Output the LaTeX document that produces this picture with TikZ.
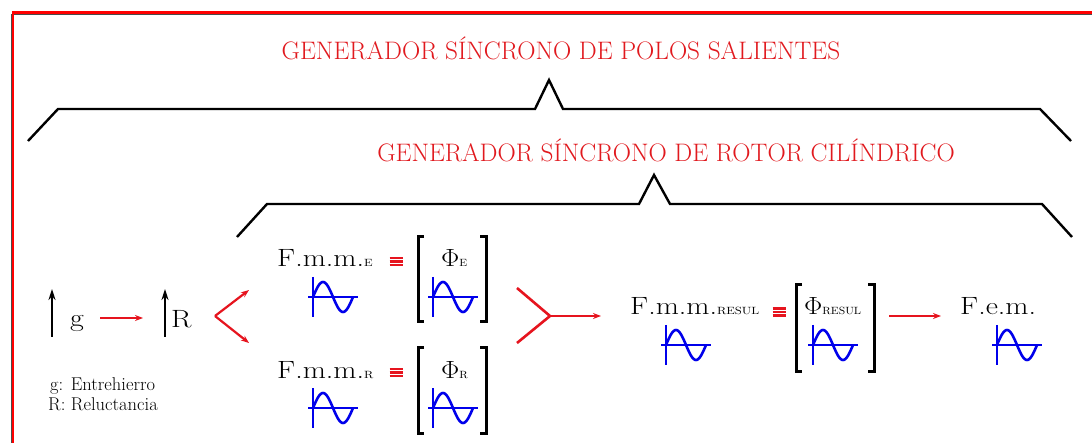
\documentclass[tikz,border=0pt]{standalone}
\usetikzlibrary{arrows.meta}
\definecolor{tred}{RGB}{225,25,30}
\definecolor{ared}{RGB}{230,20,30}
\definecolor{wblue}{RGB}{0,0,235}
\newcommand\widetxt[1]{\scalebox{1.2}[1]{#1}}
\newcommand\smc[1]{{\fontsize{10.5}{12}\selectfont #1}}
\begin{document}
\begin{tikzpicture}[x=1pt,y=-1pt,
  title/.style={font=\fontsize{25.3}{30}\selectfont, text=tred, inner sep=0, anchor=base},
  big/.style={font=\fontsize{25}{30}\selectfont, inner sep=0, anchor=base west},
  phitxt/.style={font=\fontsize{25}{30}\selectfont, inner sep=0, anchor=base west},
  legend/.style={font=\fontsize{18.5}{22}\selectfont, inner sep=0, anchor=base west},
  brace/.style={line width=2.4pt, line join=miter},
  redarrow/.style={ared, line width=2.2pt, -{Stealth[length=8pt,width=6pt]}},
  redline/.style={ared, line width=2.6pt},
  uparrow/.style={black, line width=2pt, -{Stealth[length=11pt,width=7pt]}},
  bracket/.style={line width=3pt},
  sine/.pic={\draw[wblue, line width=2.6pt] (0,-20) -- (0,20) (-5,0) -- (45,0);
     \draw[wblue, line width=2.6pt, domain=0:40, samples=41, smooth] plot (\x, {-15*sin(9*\x)});},
  eqv/.pic={\foreach \d in {-3.4,0,3.4} \draw[ared, line width=2.4pt] (-6.5,\d) -- (6.5,\d);}
]
\useasboundingbox (0,0) rectangle (1092,443);
\fill[white] (0,0) rectangle (1092,443);
% frame
\draw[black!70, line width=1.2pt] (11.2,443) -- (11.2,14.8) -- (1092,14.8);
\draw[red, line width=2.8pt] (13,443) -- (13,12.5) -- (1092,12.5);
% titles
\node[title] (t1) at (561,60) {GENERADOR SÍNCRONO DE POLOS SALIENTES};
\node[title] (t2) at (666,162) {GENERADOR SÍNCRONO DE ROTOR CILÍNDRICO};
% braces
\draw[brace] (28,141) -- (58,109) -- (535,109) -- (549,80) -- (563,109) -- (1040,109) -- (1071,141);
\draw[brace] (237,237) -- (267,204) -- (639,204) -- (654,175) -- (670,204) -- (1042,204) -- (1072,237);
% left part
\coordinate (u1s) at (52,337); \coordinate (u1e) at (52,289);
\draw[uparrow] (u1s) -- (u1e);
\node[big] (g) at (70,327) {\widetxt{g}};
\coordinate (ga) at (100,318); \coordinate (gb) at (143,318);
\draw[redarrow] (ga) -- (gb);
\coordinate (u2s) at (165,337); \coordinate (u2e) at (165,289);
\draw[uparrow] (u2s) -- (u2e);
\node[big] (R) at (171,328) {\widetxt{R}};
\coordinate (spl) at (215,316);
\coordinate (splu) at (249,290); \coordinate (spld) at (249,343);
\draw[redarrow] (spl) -- (splu);
\draw[redarrow] (spl) -- (spld);
\node[legend] (l1) at (50,390) {g: Entrehierro};
\node[legend] (l2) at (48,410) {R: Reluctancia};
% upper row
\node[big] (fe) at (277,267) {\widetxt{F.m.m.\smc{E}}};
\pic at (396,261.7) {eqv};
\draw[bracket] (424,237) -- (418,237) -- (418,322) -- (424,322);
\draw[bracket] (480,237) -- (486,237) -- (486,322) -- (480,322);
\node[phitxt] (pe) at (441,267) {\scalebox{1.1}[1]{$\Phi$\smc{E}}};
\pic at (313,297) {sine};
\pic at (433,297) {sine};
% lower row
\node[big] (fr) at (277,378) {\widetxt{F.m.m.\smc{R}}};
\pic at (396,372.7) {eqv};
\draw[bracket] (424,348) -- (418,348) -- (418,433) -- (424,433);
\draw[bracket] (480,348) -- (486,348) -- (486,433) -- (480,433);
\node[phitxt] (pr) at (441,378) {\scalebox{1.1}[1]{$\Phi$\smc{R}}};
\pic at (313,408) {sine};
\pic at (433,408) {sine};
% merge
\coordinate (mu) at (517,288); \coordinate (md) at (517,343);
\coordinate (mj) at (550,316); \coordinate (me) at (601,316);
\draw[redline, line join=miter] (mu) -- (mj) -- (md);
\draw[redarrow] (mj) -- (me);
% result
\node[big] (fres) at (630,315) {\widetxt{F.m.m.\smc{RESUL}}};
\pic at (779,312) {eqv};
\draw[bracket] (802,285) -- (796,285) -- (796,372) -- (802,372);
\draw[bracket] (868,285) -- (874,285) -- (874,372) -- (868,372);
\node[phitxt] (pres) at (804,315) {\scalebox{1.1}[1]{$\Phi$\smc{RESUL}}};
\pic at (666,345) {sine};
\pic at (813,345) {sine};
\coordinate (ra) at (889,316); \coordinate (rb) at (941,316);
\draw[redarrow] (ra) -- (rb);
\node[big] (fem) at (960,315) {\widetxt{F.e.m.}};
\pic at (997,345) {sine};
\end{tikzpicture}
\end{document}
